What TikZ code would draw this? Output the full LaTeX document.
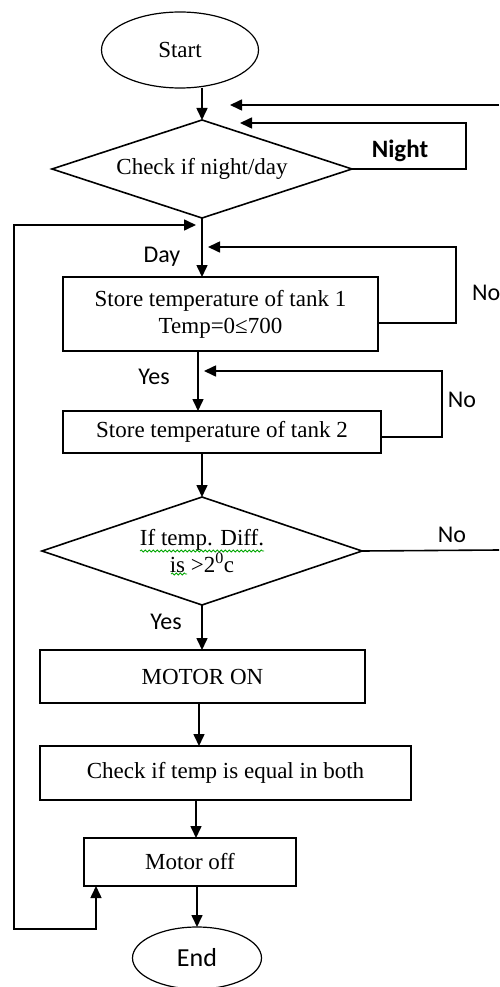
\documentclass[tikz,border=0pt]{standalone}
\usepackage{fontspec}
\setmainfont{Liberation Serif}
\newfontfamily\lblfont{Carlito}
\usetikzlibrary{arrows.meta,shapes.geometric,calc,decorations.pathmorphing}
\begin{document}
\begin{tikzpicture}[x=1pt,y=-1pt,
  line width=1.6pt,
  every node/.style={inner sep=0pt, outer sep=0pt},
  serif/.style={font=\fontsize{23}{27}\selectfont},
  boxnode/.style={draw, rectangle, serif, align=center},
  termnode/.style={draw, ellipse, line width=1.2pt},
  decnode/.style={draw, diamond, aspect=3, serif, align=center},
  lbl/.style={font=\lblfont\fontsize{24}{28}\selectfont},
  nightlbl/.style={font=\lblfont\bfseries\fontsize{25}{28}\selectfont},
  endlbl/.style={font=\lblfont\fontsize{26}{30}\selectfont},
  arr/.style={-{Triangle[length=12pt,width=11pt]}},
  twoarr/.style={{Triangle[length=12pt,width=11pt]}-{Triangle[length=12pt,width=11pt]}},
  spell/.style={draw=green!65!black, line width=0.8pt, decorate,
    decoration={snake, segment length=4pt, amplitude=1pt}}
]
\useasboundingbox (0,0) rectangle (499,987);
\clip (0,0) rectangle (499,987);
\fill[white] (0,0) rectangle (499,987);

% nodes
\node[termnode, serif, minimum width=157pt, minimum height=76pt] (start) at (180,50) {Start};
\node[decnode, minimum width=300pt, minimum height=98pt] (d1) at (202,169) {Check if night/day};
\node[boxnode, minimum width=315pt, minimum height=74pt] (b1) at (220.5,314) {Store temperature of tank 1\\Temp=0≤700};
\node[boxnode, minimum width=318pt, minimum height=42pt] (b2) at (222,432) {Store temperature of tank 2};
\node[decnode, minimum width=320pt, minimum height=108pt] (d2) at (202,551) {If temp. Diff.\\is >2\textsuperscript{0}c};
\node[boxnode, minimum width=325pt, minimum height=53pt] (mon) at (202.5,676.5) {MOTOR ON};
\node[boxnode, minimum width=371pt, minimum height=54pt] (chk) at (225.5,773) {Check if temp is equal in both};
\node[boxnode, minimum width=212pt, minimum height=48pt] (moff) at (190,862) {Motor off};
\node[termnode, endlbl, minimum width=129pt, minimum height=62pt] (end) at (197,958) {End};

% labels
\node[nightlbl] (night) at (400,151) {Night};
\node[lbl] (day) at (162,257) {Day};
\node[lbl, anchor=west] (no1) at (472,293) {No};
\node[lbl] (yes1) at (154,377) {Yes};
\node[lbl] (no2) at (462,400) {No};
\node[lbl] (no3) at (452,535) {No};
\node[lbl] (yes2) at (166,622) {Yes};

% helper coordinates
\coordinate (noTopFrom) at (499,105);
\coordinate (noTopTip) at (230,105);
\coordinate (nightCorner) at (466,123);
\coordinate (nightTip) at (240,123);
\coordinate (loopTip) at (196,225);
\coordinate (loopCorner) at (14,225);
\coordinate (loopBottom) at (14,929);
\coordinate (b1loop) at (456,247);
\coordinate (b1tip) at (208,247);
\coordinate (b2loop) at (442,371);
\coordinate (b2tip) at (204,371);
\coordinate (noRight) at (499,550);
\coordinate (colA) at (198,0);
\coordinate (colB) at (199,0);
\coordinate (colC) at (196,0);

% connectors
\draw[arr] (start.south -| d1.north) -- (d1.north);
\draw[arr] (noTopFrom) -- (noTopTip);
\draw[arr] (d1.east) -| (nightCorner) -- (nightTip);
\draw[twoarr] (loopTip) -- (loopCorner) -- (loopBottom) -| ($(moff.south west)+(12,0)$);
\draw[arr] (d1.south) -- (d1.south |- b1.north);
\draw[arr] ($(b1.east)+(0,9)$) -| (b1loop) -- (b1tip);
\draw[arr] (b1.south -| colA) -- (b2.north -| colA);
\draw[arr] ($(b2.east)+(0,5)$) -| (b2loop) -- (b2tip);
\draw[arr] (b2.south -| d2.north) -- (d2.north);
\draw (d2.east) -- (noRight);
\draw[arr] (d2.south) -- (d2.south |- mon.north);
\draw[arr] (mon.south -| colB) -- (chk.north -| colB);
\draw[arr] (chk.south -| colC) -- (moff.north -| colC);
\draw[arr] (moff.south -| end.north) -- (end.north);

% spell-check underlines
\draw[spell] ($(d2.center)+(-62,0)$) -- ($(d2.center)+(62,0)$);
\draw[spell] ($(d2.center)+(-31,23)$) -- ($(d2.center)+(-15,23)$);
\end{tikzpicture}
\end{document}
